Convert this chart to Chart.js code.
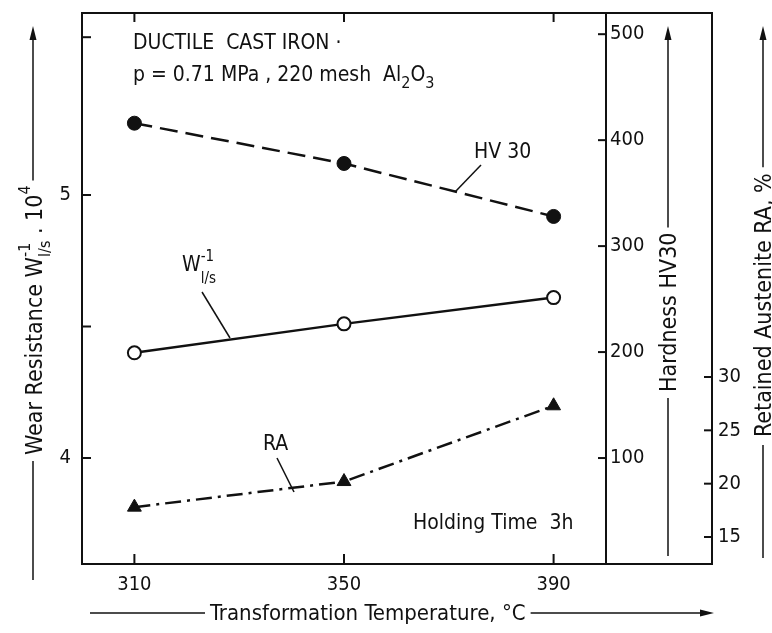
<!DOCTYPE html>
<html><head><meta charset="utf-8">
<script src="https://cdn.jsdelivr.net/npm/chart.js@4/dist/chart.umd.min.js"></script>
<style>html,body{margin:0;padding:0;background:#fff;} canvas{display:block;}</style>
</head><body>
<canvas id="c" width="772" height="633"></canvas>
<script>
// ---- data ----
const temperatures = [310, 350, 390];          // Transformation temperature, °C
const hardnessHV30 = [416, 378, 328];          // HV30 (filled circles)
const wearResistance = [4.40, 4.51, 4.61];     // W^-1 l/s · 10^4 (open circles)
const retainedAustenite = [17.8, 20.2, 27.3];  // RA % (triangles)
const tempTicks = [310, 350, 390];
const wearTicks = [4, 4.5, 5, 5.6];
const wearTickLabels = ['4', '', '5', ''];
const hardnessTicks = [100, 200, 300, 400, 500];
const raTicks = [15, 20, 25, 30];

const FONT = '"DejaVu Sans Condensed", "Liberation Sans Narrow", "Roboto Condensed", "DejaVu Sans", sans-serif';
const INK = '#111';

function pts(ys) { return temperatures.map((t, i) => ({ x: t, y: ys[i] })); }
function setTicks(list) { return s => { s.ticks = list.map(v => ({ value: v })); }; }
function fitTo(dim, val) {
  return s => { s[dim] = val; s.paddingTop = 0; s.paddingBottom = 0; s.paddingLeft = 0; s.paddingRight = 0; };
}

function rotText(ctx, x, yBottom, pieces) {
  ctx.save(); ctx.translate(x, yBottom); ctx.rotate(-Math.PI / 2);
  ctx.textBaseline = 'alphabetic'; ctx.textAlign = 'left';
  let cx = 0, lastStart = 0;
  for (const p of pieces) {
    ctx.font = p.size + 'px ' + FONT;
    const w = ctx.measureText(p.t).width;
    const sx = p.stack ? lastStart : cx;
    ctx.fillText(p.t, sx, p.dy || 0);
    if (p.stack) cx = Math.max(cx, sx + w); else { lastStart = cx; cx += w; }
  }
  ctx.restore();
  return cx;
}
function hText(ctx, x, y, pieces) {
  ctx.save(); ctx.textBaseline = 'alphabetic'; ctx.textAlign = 'left';
  let cx = x, lastStart = x;
  for (const p of pieces) {
    ctx.font = p.size + 'px ' + FONT;
    const w = ctx.measureText(p.t).width;
    const sx = p.stack ? lastStart : cx;
    ctx.fillText(p.t, sx, y + (p.dy || 0));
    if (p.stack) cx = Math.max(cx, sx + w); else { lastStart = cx; cx += w; }
  }
  ctx.restore();
  return cx;
}
function line(ctx, x1, y1, x2, y2) { ctx.beginPath(); ctx.moveTo(x1, y1); ctx.lineTo(x2, y2); ctx.stroke(); }
function arrowUp(ctx, x, y) { ctx.beginPath(); ctx.moveTo(x, y); ctx.lineTo(x - 3.5, y + 14); ctx.lineTo(x + 3.5, y + 14); ctx.closePath(); ctx.fill(); }
function arrowRight(ctx, x, y) { ctx.beginPath(); ctx.moveTo(x, y); ctx.lineTo(x - 14, y - 3.5); ctx.lineTo(x - 14, y + 3.5); ctx.closePath(); ctx.fill(); }

const deco = {
  id: 'deco',
  afterDraw(chart) {
    const ctx = chart.ctx, ca = chart.chartArea, s = chart.scales;
    const L = ca.left, R = ca.right, T = ca.top, B = ca.bottom;
    const R2 = s.yH.right;
    ctx.save();
    ctx.strokeStyle = INK; ctx.fillStyle = INK; ctx.lineWidth = 2;
    // frames
    ctx.strokeRect(L, T, R - L, B - T);
    ctx.beginPath(); ctx.moveTo(R, T); ctx.lineTo(R2, T); ctx.lineTo(R2, B); ctx.lineTo(R, B); ctx.stroke();
    // inward tick marks
    s.x.ticks.forEach(t => { const p = s.x.getPixelForValue(t.value); line(ctx, p, B, p, B - 10); line(ctx, p, T, p, T + 9); });
    s.yW.ticks.forEach(t => { const p = s.yW.getPixelForValue(t.value); line(ctx, L, p, L + 9, p); });
    s.yH.ticks.forEach(t => { const p = s.yH.getPixelForValue(t.value); line(ctx, R - 8, p, R, p); });
    s.yR.ticks.forEach(t => { const p = s.yR.getPixelForValue(t.value); line(ctx, R2 - 8, p, R2, p); });

    // annotations
    ctx.lineWidth = 1.5;
    hText(ctx, 133, 49, [{ t: 'DUCTILE  CAST IRON ·', size: 21 }]);
    hText(ctx, 133, 81, [{ t: 'p = 0.71 MPa , 220 mesh  Al', size: 21 }, { t: '2', size: 16, dy: 7 }, { t: 'O', size: 21 }, { t: '3', size: 16, dy: 7 }]);
    hText(ctx, 474, 158, [{ t: 'HV 30', size: 21 }]);
    line(ctx, 455, 192, 481, 165);
    hText(ctx, 182, 271, [{ t: 'W', size: 21 }, { t: 'l/s', size: 15, dy: 12 }, { t: '-1', size: 15, dy: -10, stack: true }]);
    line(ctx, 230, 338, 202, 292);
    hText(ctx, 263, 450, [{ t: 'RA', size: 21 }]);
    line(ctx, 277, 458, 294, 492);
    hText(ctx, 413, 529, [{ t: 'Holding Time  3h', size: 21 }]);

    // left axis title
    const wl = rotText(ctx, 42, 455, [
      { t: 'Wear Resistance W', size: 23 },
      { t: 'l/s', size: 16, dy: 8 }, { t: '-1', size: 16, dy: -12, stack: true },
      { t: ' . 10', size: 23 }, { t: '4', size: 16, dy: -12 }
    ]);
    line(ctx, 33, 580, 33, 461);
    line(ctx, 33, 455 - wl - 5, 33, 35); arrowUp(ctx, 33, 26);

    // hardness title
    const hl = rotText(ctx, 676, 392, [{ t: 'Hardness HV30', size: 23 }]);
    line(ctx, 668, 556, 668, 398);
    line(ctx, 668, 392 - hl - 5, 668, 35); arrowUp(ctx, 668, 26);

    // RA title
    const rl = rotText(ctx, 771, 437, [{ t: 'Retained Austenite RA, %', size: 23 }]);
    line(ctx, 763, 558, 763, 445);
    line(ctx, 763, 437 - rl - 6, 763, 35); arrowUp(ctx, 763, 26);

    // x title
    ctx.font = '22px ' + FONT; ctx.textBaseline = 'alphabetic'; ctx.textAlign = 'left';
    const xt = 'Transformation Temperature, °C';
    const xw = ctx.measureText(xt).width;
    ctx.fillText(xt, 210, 620);
    line(ctx, 90, 613, 205, 613);
    line(ctx, 210 + xw + 5, 613, 702, 613); arrowRight(ctx, 714, 613);
    ctx.restore();
  }
};

const noGrid = { display: false, drawTicks: false };
new Chart(document.getElementById('c'), {
  type: 'line',
  data: {
    datasets: [
      { label: 'HV30', data: pts(hardnessHV30), yAxisID: 'yH', borderColor: INK, backgroundColor: INK,
        borderWidth: 2.5, borderDash: [18, 8], pointStyle: 'circle', pointRadius: 7, pointBorderWidth: 1,
        pointBackgroundColor: INK, pointBorderColor: INK, tension: 0 },
      { label: 'W', data: pts(wearResistance), yAxisID: 'yW', borderColor: INK, backgroundColor: '#fff',
        borderWidth: 2.5, pointStyle: 'circle', pointRadius: 6.5, pointBorderWidth: 2,
        pointBackgroundColor: '#fff', pointBorderColor: INK, tension: 0 },
      { label: 'RA', data: pts(retainedAustenite), yAxisID: 'yR', borderColor: INK, backgroundColor: INK,
        borderWidth: 2.5, borderDash: [16, 6, 3, 6], pointStyle: 'triangle', pointRadius: 8, pointBorderWidth: 1,
        pointBackgroundColor: INK, pointBorderColor: INK, tension: 0 }
    ]
  },
  options: {
    responsive: false, animation: false, devicePixelRatio: 1,
    layout: { padding: { top: 13, left: 0, right: 0, bottom: 0 } },
    plugins: { legend: { display: false }, tooltip: { enabled: false } },
    scales: {
      x: { type: 'linear', position: 'bottom', min: 300, max: 400,
        afterBuildTicks: setTicks(tempTicks), afterFit: fitTo('height', 69),
        grid: noGrid, border: { display: false },
        ticks: { color: INK, font: { family: FONT, size: 20 }, padding: 9, maxRotation: 0, autoSkip: false } },
      yW: { type: 'linear', position: 'left', min: 3.597, max: 5.692,
        afterBuildTicks: setTicks(wearTicks), afterFit: fitTo('width', 82),
        grid: noGrid, border: { display: false },
        ticks: { color: INK, font: { family: FONT, size: 20 }, padding: 11, autoSkip: false,
          callback: v => { const i = wearTicks.indexOf(v); return i >= 0 ? wearTickLabels[i] : ''; } } },
      yH: { type: 'linear', position: 'right', weight: 0, min: 0, max: 520,
        afterBuildTicks: setTicks(hardnessTicks), afterFit: fitTo('width', 106),
        grid: noGrid, border: { display: false },
        ticks: { color: INK, font: { family: FONT, size: 20 }, padding: 4, autoSkip: false } },
      yR: { type: 'linear', position: 'right', weight: 1, min: 12.47, max: 64.12,
        afterBuildTicks: setTicks(raTicks), afterFit: fitTo('width', 60),
        grid: noGrid, border: { display: false },
        ticks: { color: INK, font: { family: FONT, size: 20 }, padding: 6, autoSkip: false } }
    }
  },
  plugins: [deco]
});
</script>
</body></html>
